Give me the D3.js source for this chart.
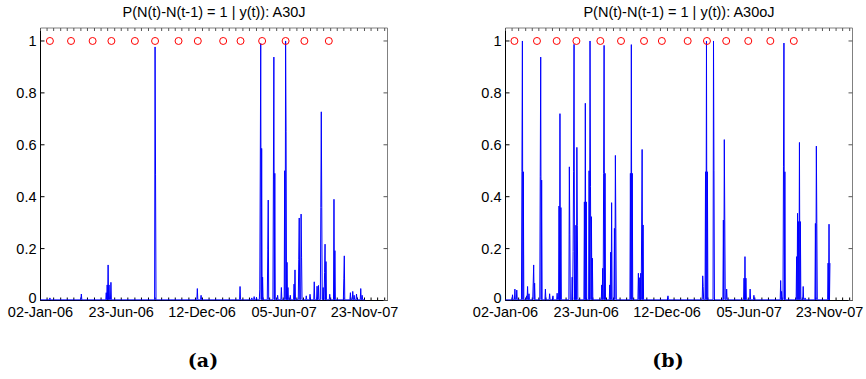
<!DOCTYPE html>
<html>
<head>
<meta charset="utf-8">
<script src="https://cdn.jsdelivr.net/npm/d3@7/dist/d3.min.js"></script>
<style>
  body { margin: 0; background: #fff; }
  svg { display: block; }
  text { font-family: "Liberation Sans", Arial, sans-serif; fill: #000; }
</style>
</head>
<body>
<svg id="chart" width="866" height="379"></svg>
<script>
// x values are days since 02-Jan-2006
const startDate = new Date(2006, 0, 2);
const axisDays = 739;
const lastDay = 691;
const baseline = 0.003;

const tickDays = [0, 172, 344, 519, 690];
const tickLabels = ["02-Jan-06", "23-Jun-06", "12-Dec-06", "05-Jun-07", "23-Nov-07"];
const yTicks = [0, 0.2, 0.4, 0.6, 0.8, 1];
const yTickLabels = ["0", "0.2", "0.4", "0.6", "0.8", "1"];

const titles = ["P(N(t)-N(t-1) = 1 | y(t)): A30J", "P(N(t)-N(t-1) = 1 | y(t)): A30oJ"];
const captions = ["(a)", "(b)"];

// panel (a): A30J
const daysA = [20, 87, 140, 142, 144, 146, 150, 244, 245, 334, 342, 425, 450, 455, 460,
  467, 468, 469, 471, 473, 484, 485, 496, 497, 499, 505, 513, 520, 522, 523, 525, 527,
  532, 540, 542, 550, 551, 555, 556, 566, 574, 583, 589, 592, 597, 598, 599, 602, 605, 606, 608,
  616, 625, 627, 646, 647, 660, 665, 668, 673, 682, 685];
const probA = [0.01, 0.025, 0.03, 0.06, 0.137, 0.06, 0.07, 0.977, 0.487, 0.046, 0.02, 0.054, 0.01, 0.015, 0.012,
  0.044, 0.495, 0.99, 0.586, 0.09, 0.195, 0.387, 0.468, 0.938, 0.49, 0.02, 0.05, 0.5, 1.0, 0.65, 0.147, 0.05,
  0.02, 0.063, 0.118, 0.159, 0.318, 0.333, 0.167, 0.018, 0.024, 0.072, 0.055, 0.058, 0.359, 0.727, 0.359, 0.05, 0.108, 0.217, 0.15,
  0.024, 0.39, 0.192, 0.086, 0.172, 0.03, 0.035, 0.02, 0.025, 0.046, 0.02];
const eventsA = [20, 65, 111, 151, 201, 244, 294, 335, 389, 426, 472, 522, 562, 614];

// panel (b): A30oJ
const daysB = [15, 20, 24, 35, 36, 38, 45, 47, 50, 59, 60, 62, 74, 75, 77, 85, 94, 101, 110,
  114, 116, 118, 136, 137, 142, 144, 145, 146, 148, 150, 152, 153, 168, 170, 172,
  178, 180, 181, 183, 185, 205, 207, 209, 210, 212, 222, 224, 226, 232, 234, 235,
  266, 268, 270, 283, 286, 288, 290, 291, 293, 346, 420, 421, 426, 428, 430, 443, 444,
  464, 466, 467, 471, 508, 510, 512, 521, 529, 586, 588, 592, 593, 595, 620, 622,
  624, 626, 628, 634, 638, 660, 662, 663, 687, 689, 691];
const probB = [0.022, 0.044, 0.04, 0.496, 1.0, 0.496, 0.018, 0.054, 0.026, 0.067, 0.137, 0.067, 0.477, 0.938, 0.464, 0.044, 0.026, 0.018, 0.028,
  0.364, 0.72, 0.358, 0.515, 0.253, 0.09, 0.188, 0.496, 0.987, 0.04, 0.29, 0.59, 0.29, 0.38, 0.76, 0.38,
  0.5, 1.0, 0.44, 0.323, 0.163, 0.06, 0.124, 0.49, 0.983, 0.49, 0.06, 0.186, 0.377, 0.278, 0.559, 0.278,
  0.49, 0.986, 0.49, 0.105, 0.088, 0.105, 0.291, 0.582, 0.291, 0.018, 0.095, 0.054, 0.496, 1.0, 0.496, 1.0, 0.5,
  0.31, 0.62, 0.31, 0.044, 0.086, 0.169, 0.086, 0.044, 0.02, 0.077, 0.035, 0.515, 0.992, 0.496, 0.169, 0.336,
  0.304, 0.609, 0.304, 0.054, 0.01, 0.297, 0.595, 0.297, 0.144, 0.294, 0.144];
const eventsB = [19, 67, 109, 151, 202, 246, 295, 333, 388, 429, 470, 517, 564, 614];

const svg = d3.select("#chart");
const plotW = 347;
const plotTop = 28, plotBottom = 300.5;
const tickLen = 4;

function drawPanel(left, title, caption, capX, days, probs, events) {
  const x = d3.scaleTime()
    .domain([startDate, d3.timeDay.offset(startDate, axisDays)])
    .range([left, left + plotW]);
  const y = d3.scaleLinear().domain([0, 1.05]).range([plotBottom, plotTop]);
  const day = d => d3.timeDay.offset(startDate, d);

  const g = svg.append("g");

  // axes box (top/right come out lighter in the source render)
  g.append("line").attr("x1", left).attr("x2", left + plotW)
    .attr("y1", plotTop).attr("y2", plotTop).attr("stroke", "#808080");
  g.append("line").attr("x1", left + plotW).attr("x2", left + plotW)
    .attr("y1", plotTop).attr("y2", plotBottom).attr("stroke", "#808080");
  g.append("line").attr("x1", left).attr("x2", left)
    .attr("y1", plotTop).attr("y2", plotBottom).attr("stroke", "#000");
  g.append("line").attr("x1", left).attr("x2", left + plotW)
    .attr("y1", plotBottom).attr("y2", plotBottom).attr("stroke", "#000");

  // inward ticks
  const minor = d3.range(0, axisDays, 690 / 48);
  g.append("g").selectAll("line")
    .data(minor).enter().append("line")
    .attr("x1", d => x(day(d))).attr("x2", d => x(day(d)))
    .attr("y1", plotBottom).attr("y2", plotBottom - 3)
    .attr("stroke", "#000");
  g.append("g").selectAll("line")
    .data(minor).enter().append("line")
    .attr("x1", d => x(day(d))).attr("x2", d => x(day(d)))
    .attr("y1", plotTop).attr("y2", plotTop + 3)
    .attr("stroke", "#555");

  g.append("g").selectAll("line")
    .data(yTicks).enter().append("line")
    .attr("x1", left).attr("x2", left + tickLen)
    .attr("y1", d => y(d)).attr("y2", d => y(d))
    .attr("stroke", "#000");
  g.append("g").selectAll("line")
    .data(yTicks).enter().append("line")
    .attr("x1", left + plotW - tickLen).attr("x2", left + plotW)
    .attr("y1", d => y(d)).attr("y2", d => y(d))
    .attr("stroke", "#555");

  // tick labels
  g.append("g").selectAll("text")
    .data(yTicks).enter().append("text")
    .attr("x", left - 4).attr("y", d => d === 0 ? y(d) + 2.5 : y(d) + 5)
    .attr("text-anchor", "end")
    .style("font-size", "14.5px")
    .text((d, i) => yTickLabels[i]);

  g.append("g").selectAll("text")
    .data(tickDays).enter().append("text")
    .attr("x", d => x(day(d))).attr("y", 317)
    .attr("text-anchor", "middle")
    .style("font-size", "14.5px")
    .text((d, i) => tickLabels[i]);

  g.append("text")
    .attr("x", left + plotW / 2).attr("y", 17)
    .attr("text-anchor", "middle")
    .style("font-size", "14.5px")
    .text(title);

  // daily series: days not listed sit at the baseline
  const lookup = new Map(days.map((d, i) => [d, probs[i]]));
  const series = d3.range(0, lastDay + 1).map(d => [d, lookup.has(d) ? lookup.get(d) : baseline]);

  g.append("path")
    .datum(series)
    .attr("fill", "none")
    .attr("stroke", "#0000ff")
    .attr("stroke-width", 1)
    .attr("d", d3.line().x(d => x(day(d[0]))).y(d => y(d[1])));

  // events
  g.append("g").selectAll("circle")
    .data(events).enter().append("circle")
    .attr("cx", d => x(day(d)))
    .attr("cy", y(1))
    .attr("r", 3.5)
    .attr("fill", "none")
    .attr("stroke", "#ff0000")
    .attr("stroke-width", 1);

  svg.append("text")
    .attr("x", capX).attr("y", 367)
    .attr("text-anchor", "middle")
    .style("font-family", "'DejaVu Serif', serif")
    .style("font-weight", "bold")
    .style("font-size", "19px")
    .text(caption);
}

drawPanel(40.5, titles[0], captions[0], 203, daysA, probA, eventsA);
drawPanel(505.5, titles[1], captions[1], 668, daysB, probB, eventsB);
</script>
</body>
</html>
